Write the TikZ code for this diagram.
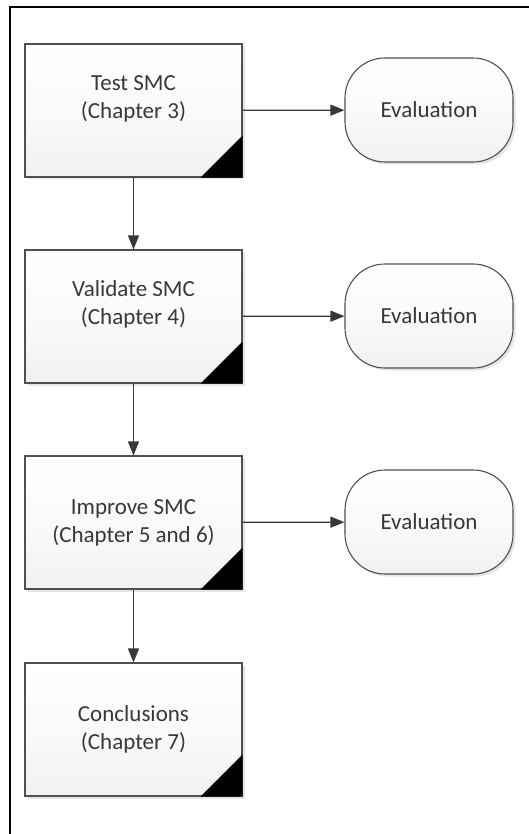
\documentclass[tikz,border=0pt]{standalone}
\usepackage{fontspec}
\setmainfont{Carlito}
\usetikzlibrary{arrows.meta,shadows}

\definecolor{edge}{HTML}{505050}
\definecolor{ink}{HTML}{383838}
\definecolor{lighttop}{HTML}{FFFFFF}
\definecolor{lightmid}{HTML}{FAFAFA}
\definecolor{lightbottom}{HTML}{F1F1F1}

\tikzset{
  procbox/.style={draw=edge, line width=1.1pt, top color=lighttop, bottom color=lightbottom, middle color=lightmid,
    minimum width=217pt, minimum height=133pt, inner sep=0pt,
    drop shadow={shadow xshift=2.5pt, shadow yshift=-2.5pt, fill=black!20, opacity=0.5}},
  evalbox/.style={draw=edge, line width=1.1pt, top color=lighttop, bottom color=lightbottom, middle color=lightmid,
    minimum width=168pt, minimum height=104pt, inner sep=0pt, rounded corners=40pt,
    drop shadow={shadow xshift=2.5pt, shadow yshift=-2.5pt, fill=black!20, opacity=0.5},
    font=\fontsize{23}{28}\selectfont, text=ink},
  label text/.style={align=center, font=\fontsize{23}{28}\selectfont, text=ink, inner sep=0pt},
  flow/.style={draw=ink, line width=1.2pt, -{Triangle[length=14pt,width=11pt]}},
  frame/.style={line width=2.6pt, black}
}

\begin{document}
\begin{tikzpicture}[x=1pt, y=-1pt]
  \useasboundingbox (0,0) rectangle (529,834);

  % outer frame (left and top edges)
  \coordinate (fbl) at (10,834);
  \coordinate (ftl) at (10,7);
  \coordinate (ftr) at (529,7);
  \draw[frame] (fbl) -- (ftl) -- (ftr);

  % process boxes
  \node[procbox] (b1) at (133.5,110.5) {};
  \node[procbox] (b2) at (133.5,316.5) {};
  \node[procbox] (b3) at (133.5,522.5) {};
  \node[procbox] (b4) at (133.5,729.5) {};

  % dark corner marks
  \foreach \b in {b1,b2,b3,b4}{
    \fill[black] (\b.south east) -- ([xshift=-42pt]\b.south east) -- ([yshift=42pt]\b.south east) -- cycle;
  }

  % box labels
  \node[label text] (t1) at ([yshift=12pt]b1.center) {Test SMC\\(Chapter 3)};
  \node[label text] (t2) at ([yshift=12pt]b2.center) {Validate SMC\\(Chapter 4)};
  \node[label text] (t3) at (b3.center) {Improve SMC\\(Chapter 5 and 6)};
  \node[label text] (t4) at (b4.center) {Conclusions\\(Chapter 7)};

  % evaluation terminals
  \node[evalbox] (e1) at (429,110) {Evaluation};
  \node[evalbox] (e2) at (429,316) {Evaluation};
  \node[evalbox] (e3) at (429,522) {Evaluation};

  % connectors
  \draw[flow] (b1) -- (b2);
  \draw[flow] (b2) -- (b3);
  \draw[flow] (b3) -- (b4);
  \draw[flow] (b1) -- (e1);
  \draw[flow] (b2) -- (e2);
  \draw[flow] (b3) -- (e3);
\end{tikzpicture}
\end{document}
